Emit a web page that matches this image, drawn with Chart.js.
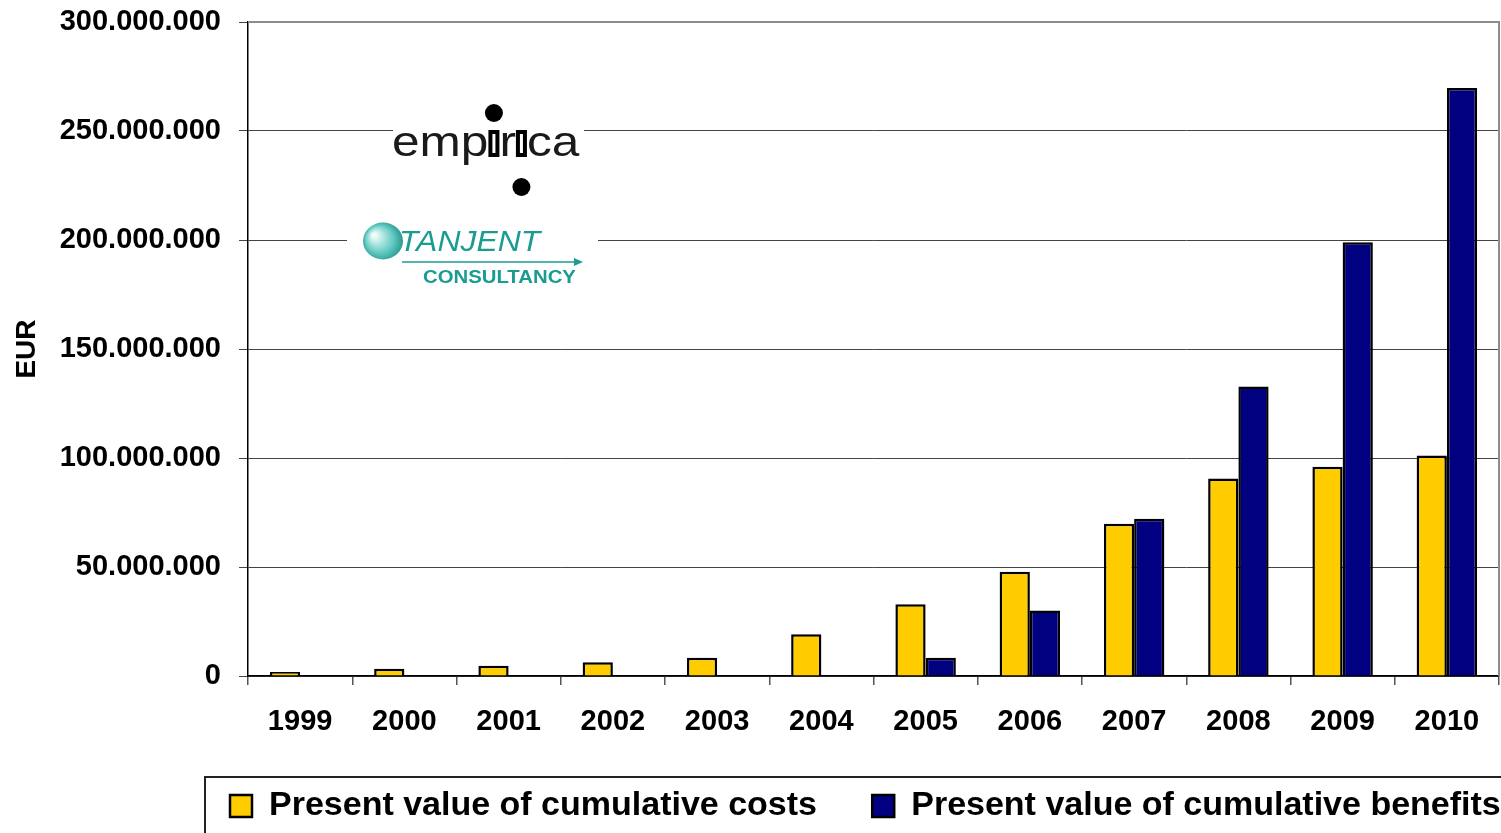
<!DOCTYPE html>
<html>
<head>
<meta charset="utf-8">
<script src="https://cdn.jsdelivr.net/npm/chart.js@4"></script>
<style>
  html, body { margin: 0; padding: 0; background: #fff; }
  #wrap { width: 1501px; height: 833px; }
</style>
</head>
<body>
<div id="wrap"><canvas id="myChart" width="1501" height="833"></canvas></div>
<script>
const years = ['1999', '2000', '2001', '2002', '2003', '2004', '2005', '2006', '2007', '2008', '2009', '2010'];
// values in EUR
const costs = [1800000, 3300000, 4700000, 6300000, 8400000, 19100000, 32900000, 47800000, 69800000, 90600000, 96000000, 101100000];
const benefits = [0, 0, 0, 0, 300000, 500000, 8400000, 30000000, 72100000, 132800000, 199000000, 269700000];
const yTicks = [0, 50000000, 100000000, 150000000, 200000000, 250000000, 300000000];

const FONT = "'Liberation Sans', Arial, sans-serif";

function dots(v) {
  return String(Math.round(v)).replace(/\B(?=(\d{3})+(?!\d))/g, '.');
}

// frame, legend box and the two logos
const extras = {
  id: 'extras',
  afterLayout(chart) {
    // legend row starts under the plot, like the original
    chart.legend.left = 222;
    chart.legend.right = 1560;
  },
  beforeDatasetsDraw(chart) {
    const ctx = chart.ctx;
    const a = chart.chartArea;
    ctx.save();
    ctx.strokeStyle = '#8c8c8c';
    ctx.lineWidth = 2;
    ctx.beginPath();
    ctx.moveTo(a.left, a.top);
    ctx.lineTo(a.right, a.top);
    ctx.lineTo(a.right, a.bottom);
    ctx.stroke();
    ctx.restore();
  },
  afterDraw(chart) {
    const ctx = chart.ctx;
    const lg = chart.legend;
    ctx.save();
    // legend border
    ctx.strokeStyle = '#222';
    ctx.lineWidth = 2;
    ctx.strokeRect(lg.left - 17, lg.top - 4, 1400, 200);

    // empirica logo
    ctx.fillStyle = '#fff';
    ctx.fillRect(393, 100, 191, 98);
    const sx = 1.18, x0 = 392, base = 156;
    ctx.font = '42px ' + FONT;
    ctx.textBaseline = 'alphabetic';
    ctx.textAlign = 'left';
    const w1 = ctx.measureText('emp').width;
    const w2 = ctx.measureText('empir').width;
    const iw = ctx.measureText('i').width;
    ctx.save();
    ctx.translate(x0, base);
    ctx.scale(sx, 1);
    ctx.fillStyle = '#1a1a1a';
    ctx.fillText('empirica', 0, 0);
    ctx.restore();
    const c1 = x0 + sx * (w1 + iw / 2);
    const c2 = x0 + sx * (w2 + iw / 2);
    [c1, c2].forEach(function (cx) {
      ctx.fillStyle = '#fff';
      ctx.fillRect(cx - 6, 118, 12, 13);
      ctx.fillStyle = '#000';
      ctx.fillRect(cx - 5.5, 130, 11, 27);
      ctx.fillStyle = '#fff';
      ctx.fillRect(cx - 1.5, 134, 3, 19);
    });
    ctx.fillStyle = '#000';
    ctx.beginPath();
    ctx.arc(c1, 113, 9, 0, Math.PI * 2);
    ctx.fill();
    ctx.beginPath();
    ctx.arc(c2, 187, 9, 0, Math.PI * 2);
    ctx.fill();

    // tanjent logo
    ctx.fillStyle = '#fff';
    ctx.fillRect(347, 220, 251, 70);
    const g = ctx.createRadialGradient(374, 235, 2, 383, 242, 22);
    g.addColorStop(0, '#eefcfa');
    g.addColorStop(0.6, '#62c9c2');
    g.addColorStop(1, '#1b8f88');
    ctx.fillStyle = g;
    ctx.beginPath();
    ctx.ellipse(383, 241, 20, 18.5, 0, 0, Math.PI * 2);
    ctx.fill();
    ctx.fillStyle = '#1b9c92';
    ctx.save();
    ctx.translate(399, 251);
    ctx.scale(1.1, 1);
    ctx.font = 'italic 29px ' + FONT;
    ctx.fillText('TANJENT', 0, 0);
    ctx.restore();
    ctx.strokeStyle = '#1b9c92';
    ctx.lineWidth = 1.5;
    ctx.beginPath();
    ctx.moveTo(402, 262);
    ctx.lineTo(578, 262);
    ctx.stroke();
    ctx.beginPath();
    ctx.moveTo(583, 262);
    ctx.lineTo(574, 258);
    ctx.lineTo(574, 266);
    ctx.closePath();
    ctx.fill();
    ctx.save();
    ctx.translate(423, 283);
    ctx.scale(1.13, 1);
    ctx.font = 'bold 18px ' + FONT;
    ctx.fillText('CONSULTANCY', 0, 0);
    ctx.restore();
    ctx.restore();
  }
};

const data = {
  labels: years,
  datasets: [{
      label: 'Present value of cumulative costs     ',
      data: costs,
      backgroundColor: '#ffcc00',
      borderColor: '#000',
      borderWidth: 2.5,
      barPercentage: 1,
      categoryPercentage: 0.58,
    }, {
      label: 'Present value of cumulative benefits',
      data: benefits,
      backgroundColor: '#000080',
      borderColor: '#000',
      borderWidth: 2.5,
      barPercentage: 1,
      categoryPercentage: 0.58,
  },],
};

const config = {
  type: 'bar',
  data: data,
  options: {
    responsive: false,
    animation: false,
    layout: { padding: { left: 0, right: 2, top: 22, bottom: 0 } },
    plugins: {
      legend: {
        position: 'bottom',
        align: 'start',
        labels: {
          boxWidth: 22,
          boxHeight: 22,
          padding: 8,
          color: '#000',
          font: { family: FONT, size: 34, weight: 'bold' }
        }
      },
      tooltip: { enabled: false }
    },
    scales: {
      x: {
        grid: { display: true, offset: true, drawOnChartArea: false, drawTicks: true, tickLength: 9, color: '#555', lineWidth: 1.5 },
        border: { color: '#000', width: 1.5 },
        ticks: { color: '#000', padding: 20, font: { family: FONT, size: 29, weight: 'bold' } },
        afterFit: function (s) { s.height = 105; }
      },
      y: {
        min: 0,
        max: 300000000,
        afterBuildTicks: function (s) { s.ticks = yTicks.map(function (v) { return { value: v }; }); },
        grid: { color: '#444', lineWidth: 1, tickLength: 9 },
        border: { color: '#000', width: 1.5 },
        ticks: {
          color: '#000',
          padding: 18,
          font: { family: FONT, size: 29, weight: 'bold' },
          callback: function (v) { return dots(v); }
        },
        title: {
          display: true,
          text: 'EUR',
          color: '#000',
          padding: { top: 10, bottom: 0 },
          font: { family: FONT, size: 28, weight: 'bold' }
        },
        afterFit: function (s) { s.width = 248; s.paddingTop = 0; s.paddingBottom = 0; }
      }
    }
  },
  plugins: [extras]
};

const myChart = new Chart(document.getElementById('myChart').getContext('2d'), config);
</script>
</body>
</html>
